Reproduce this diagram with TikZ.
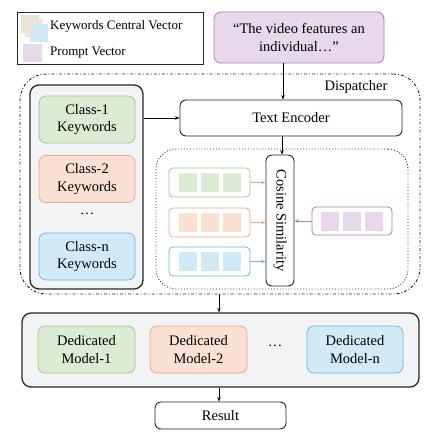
\documentclass[tikz,border=0pt]{standalone}
\usepackage{fontspec}
\setmainfont{Liberation Serif}
\usetikzlibrary{arrows.meta}

\definecolor{kwgreen}{HTML}{DCEBD4}
\definecolor{kwgreenline}{HTML}{9DCB87}
\definecolor{kworange}{HTML}{FBE1D3}
\definecolor{kworangeline}{HTML}{E8A98A}
\definecolor{kwblue}{HTML}{D2E9F6}
\definecolor{kwblueline}{HTML}{6DB5E0}
\definecolor{prpurple}{HTML}{E7D9EB}
\definecolor{prpurpleline}{HTML}{B07AB4}
\definecolor{panelgray}{HTML}{F2F3F5}

\tikzset{
	panel/.style={draw=black!85, line width=1.3pt, rounded corners=9pt, fill=panelgray, inner sep=0pt},
	plainbox/.style={draw=black!85, line width=0.9pt, rounded corners=6pt, fill=white, inner sep=0pt},
	kwbox/.style={rounded corners=7pt, line width=0.8pt, inner sep=0pt, align=center, minimum width=96pt, minimum height=47pt},
	vecbox/.style={rounded corners=4pt, line width=0.8pt, fill=white, inner sep=0pt, minimum width=81pt, minimum height=29pt},
	arr/.style={-{Stealth[length=4.5pt,width=3.5pt]}, line width=0.7pt}
}

\begin{document}
\begin{tikzpicture}[x=1pt,y=-1pt,font=\fontsize{14.5}{17.5}\selectfont]
					\useasboundingbox (0,0) rectangle (438,444);
					\path (110,38) node[draw=black!85, line width=0.9pt, minimum width=186pt, minimum height=52pt, inner sep=0pt] (legend) {};
					\fill[kwgreen] (21,15) rectangle (39,33);
					\fill[kworange, opacity=0.9] (25,19) rectangle (43,37);
					\fill[kwblue] (30,24) rectangle (48,42);
					\fill[prpurple] (23,44) rectangle (42,62);
					\path (50,26) node[anchor=west, inner sep=0pt, font=\fontsize{13}{15}\selectfont] (lgkw) {Keywords Central Vector};
					\path (50,53) node[anchor=west, inner sep=0pt, font=\fontsize{13}{15}\selectfont] (lgpr) {Prompt Vector};
					\path (299,37.5) node[kwbox, draw=prpurpleline, fill=prpurple, minimum width=170pt, minimum height=51pt] (prompt) {``The video features an\\individual\dots''};
					\path (220,184) node[draw=black!85, line width=0.9pt, dash dot, rounded corners=26pt, minimum width=400pt, minimum height=220pt, inner sep=0pt] (disp) {};
					\path (356,87) node (displabel) {Dispatcher};
					\path (86.5,187) node[panel, minimum width=113pt, minimum height=204pt] (kwpanel) {};
					\path (87,119.5) node[kwbox, draw=kwgreenline, fill=kwgreen] (cls1) {Class-1\\Keywords};
					\path (87,179) node[kwbox, draw=kworangeline, fill=kworange] (cls2) {Class-2\\Keywords};
					\path (87,214) node (clsdots) {\dots};
					\path (87,256.5) node[kwbox, draw=kwblueline, fill=kwblue] (clsn) {Class-n\\Keywords};
					\path (291,118) node[plainbox, minimum width=222pt, minimum height=36pt] (enc) {Text Encoder};
					\path (282,219) node[draw=black!85, line width=0.9pt, dotted, rounded corners=20pt, minimum width=252pt, minimum height=140pt, inner sep=0pt] (simarea) {};
					\path (280,220.5) node[plainbox, rotate=-90, minimum width=131pt, minimum height=28pt] (cos) {Cosine Similarity};
					\path (209.5,182.5) node[vecbox, draw=kwgreenline] (vec1) {};
					\path (209.5,222.5) node[vecbox, draw=kworangeline] (vec2) {};
					\path (209.5,261.5) node[vecbox, draw=kwblueline] (vecn) {};
					\path (352,221) node[vecbox, draw=prpurpleline, minimum width=80pt, minimum height=28pt] (vecp) {};
					\foreach \v/\c in {vec1/kwgreen, vec2/kworange, vecn/kwblue, vecp/prpurple}
						\foreach \dx in {-22,0,22}
							\fill[\c] ([xshift=\dx pt-9pt, yshift=-9.5pt]\v.center) rectangle ([xshift=\dx pt+9pt, yshift=9.5pt]\v.center);
					\path (220.5,350) node[panel, minimum width=397pt, minimum height=74pt] (models) {};
					\path (86.5,349.5) node[kwbox, draw=kwgreenline, fill=kwgreen, minimum width=97pt] (mod1) {Dedicated\\Model-1};
					\path (198.5,349.5) node[kwbox, draw=kworangeline, fill=kworange, minimum width=97pt] (mod2) {Dedicated\\Model-2};
					\path (275,346) node (moddots) {\dots};
					\path (355,349.5) node[kwbox, draw=kwblueline, fill=kwblue] (modn) {Dedicated\\Model-n};
					\path (220.5,415.5) node[plainbox, minimum width=131pt, minimum height=27pt] (result) {Result};
					\draw[arr] (prompt.south -| 283,0) -- (enc.north -| 283,0);
					\draw[arr] (kwpanel.east |- enc.west) -- (enc.west);
					\draw[arr] (enc.south -| 282,0) -- (cos.west -| 282,0);
					\draw[arr, draw=kwgreenline, fill=kwgreenline] (vec1.east) -- (vec1.east -| cos.south);
					\draw[arr, draw=kworangeline, fill=kworangeline] (vec2.east) -- (vec2.east -| cos.south);
					\draw[arr, draw=kwblueline, fill=kwblueline] (vecn.east) -- (vecn.east -| cos.south);
					\draw[arr, draw=prpurpleline, fill=prpurpleline] (vecp.west) -- (vecp.west -| cos.north);
					\draw[arr] (disp.south -| 219,0) -- (models.north -| 219,0);
					\draw[arr] (models.south -| 219,0) -- (result.north -| 219,0);
\end{tikzpicture}
\end{document}
